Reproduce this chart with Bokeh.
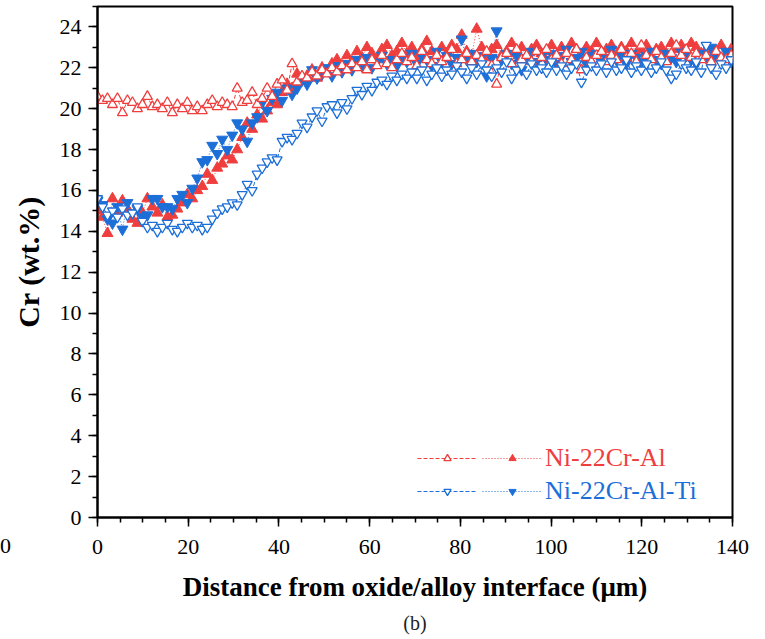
from bokeh.plotting import figure
from bokeh.models import Range1d, SingleIntervalTicker, Legend, LegendItem, Title, Div
from bokeh.layouts import column
from bokeh.embed import file_html
from bokeh.resources import INLINE

# Distance from oxide/alloy interface (um)
distance = [0.0, 1.1, 2.2, 3.3, 4.4, 5.5, 6.6, 7.7, 8.8, 9.9,
            11.0, 12.1, 13.2, 14.3, 15.4, 16.5, 17.6, 18.7, 19.8, 20.9,
            22.0, 23.1, 24.2, 25.3, 26.4, 27.5, 28.6, 29.7, 30.8, 31.9,
            33.0, 34.1, 35.2, 36.3, 37.4, 38.5, 39.6, 40.7, 41.8, 42.9,
            44.0, 45.1, 46.2, 47.3, 48.4, 49.5, 50.6, 51.7, 52.8, 53.9,
            55.0, 56.1, 57.2, 58.3, 59.4, 60.5, 61.6, 62.7, 63.8, 64.9,
            66.0, 67.1, 68.2, 69.3, 70.4, 71.5, 72.6, 73.7, 74.8, 75.9,
            77.0, 78.1, 79.2, 80.3, 81.4, 82.5, 83.6, 84.7, 85.8, 86.9,
            88.0, 89.1, 90.2, 91.3, 92.4, 93.5, 94.6, 95.7, 96.8, 97.9,
            99.0, 100.1, 101.2, 102.3, 103.4, 104.5, 105.6, 106.7, 107.8, 108.9,
            110.0, 111.1, 112.2, 113.3, 114.4, 115.5, 116.6, 117.7, 118.8, 119.9,
            121.0, 122.1, 123.2, 124.3, 125.4, 126.5, 127.6, 128.7, 129.8, 130.9,
            132.0, 133.1, 134.2, 135.3, 136.4, 137.5, 138.6, 139.7]

# Ni-22Cr-Al, open symbols (dashed)
cr_al_open = [20.6, 20.4, 20.5, 20.2, 20.5, 19.8, 20.4, 20.3, 20.0, 20.2,
              20.6, 20.1, 20.2, 20.0, 20.3, 19.8, 20.2, 20.0, 20.3, 19.9,
              20.1, 19.9, 20.2, 20.4, 20.1, 20.3, 20.2, 20.1, 21.0, 20.3,
              20.4, 20.8, 20.2, 20.5, 21.0, 20.6, 21.2, 21.4, 20.9, 22.2,
              21.3, 21.6, 21.5, 21.8, 21.6, 21.9, 21.7, 22.0, 21.8, 22.1,
              21.9, 22.2, 22.0, 22.3, 21.9, 22.4, 22.1, 22.6, 22.2, 22.0,
              22.4, 22.7, 22.3, 22.5, 22.1, 22.8, 22.4, 22.2, 22.6, 22.3,
              22.5, 22.9, 22.2, 22.4, 22.7, 22.3, 22.6, 22.4, 22.8, 22.1,
              21.2, 22.5, 22.7, 22.2, 22.9, 22.4, 22.6, 22.3, 22.8, 22.5,
              22.9, 22.4, 22.6, 22.2, 22.7, 22.4, 22.9, 21.9, 22.5, 22.3,
              22.6, 22.8, 22.3, 22.6, 22.4, 22.9, 22.5, 22.7, 22.3, 23.1,
              22.6, 22.4, 22.8, 22.5, 22.3, 22.7, 23.1, 22.6, 22.9, 22.5,
              22.7, 22.4, 22.6, 22.3, 22.8, 22.5, 22.4, 22.6]

# Ni-22Cr-Al, filled symbols (dotted)
cr_al_filled = [15.0, 14.7, 13.9, 15.6, 14.9, 15.5, 15.1, 14.6, 14.4, 14.9,
                15.6, 15.2, 14.9, 15.3, 14.7, 14.8, 15.1, 15.4, 15.8, 15.6,
                16.0, 16.2, 16.8, 16.5, 17.1, 17.3, 17.7, 17.5, 18.0, 18.6,
                19.3, 19.0, 19.7, 19.5, 19.9, 20.3, 20.2, 20.8, 21.2, 21.0,
                21.7, 21.4, 21.6, 21.9, 21.5, 22.0, 21.8, 22.2, 22.4, 22.1,
                22.6, 22.3, 22.8, 22.5, 23.0, 22.7, 22.4, 22.9, 23.1, 22.6,
                22.8, 23.2, 22.7, 23.0, 22.5, 22.9, 23.3, 22.8, 22.6, 23.0,
                22.7, 23.1, 22.9, 23.6, 22.8, 22.6, 23.9, 23.0, 22.5, 22.9,
                23.1, 22.6, 22.8, 23.2, 22.7, 23.0, 22.5, 22.9, 23.1, 22.7,
                22.8, 23.1, 22.6, 23.0, 22.7, 23.2, 22.9, 22.6, 23.0, 22.8,
                23.2, 22.7, 22.9, 23.1, 22.6, 23.0, 22.8, 23.2, 22.7, 22.9,
                23.1, 22.6, 22.9, 23.0, 22.7, 23.2, 22.9, 23.1, 22.8, 23.2,
                23.0, 22.7, 22.9, 22.5, 22.8, 23.1, 22.6, 22.9]

# Ni-22Cr-Al-Ti, open symbols (dashed)
cr_alti_open = [15.6, 15.2, 14.8, 15.0, 14.7, 15.1, 14.8, 14.9, 15.2, 14.5,
                14.2, 14.3, 14.0, 14.2, 14.4, 14.1, 14.0, 14.2, 14.4, 14.2,
                14.3, 14.1, 14.2, 14.6, 14.9, 15.1, 15.2, 15.4, 15.3, 15.8,
                16.3, 16.0, 16.8, 17.1, 17.4, 17.6, 17.5, 18.4, 18.6, 18.5,
                18.8, 19.3, 19.1, 19.6, 19.9, 19.4, 20.1, 20.2, 19.8, 20.3,
                20.0, 20.5, 20.9, 20.7, 21.1, 20.9, 21.3, 21.4, 21.2, 21.6,
                21.4, 21.7, 21.5, 21.8, 21.5, 21.9, 21.4, 21.7, 22.0, 21.6,
                21.9, 21.7, 22.1, 21.8, 21.5, 22.0, 21.7, 22.2, 21.9, 21.6,
                22.0, 21.8, 22.3, 21.5, 21.9, 22.1, 21.7, 22.2, 21.9, 22.0,
                21.8, 22.3, 21.9, 22.1, 21.7, 22.0, 22.2, 21.3, 21.9, 22.1,
                21.9, 22.2, 21.8, 22.3, 21.9, 22.0, 22.4, 21.8, 22.1, 21.9,
                22.2, 21.8, 22.0, 22.3, 21.9, 21.5, 21.7, 22.2, 22.0, 21.9,
                22.3, 21.8, 23.1, 22.0, 21.7, 22.2, 22.0, 22.4]

# Ni-22Cr-Al-Ti, filled symbols (dotted)
cr_alti_filled = [15.5, 15.3, 14.6, 14.4, 15.2, 14.1, 15.4, 14.9, 15.1, 14.7,
                  14.8, 15.6, 15.6, 15.2, 15.2, 15.1, 15.6, 15.8, 15.4, 16.1,
                  16.6, 17.4, 17.5, 18.2, 17.8, 18.5, 18.0, 18.7, 19.3, 19.0,
                  18.4, 19.3, 19.6, 20.3, 19.9, 20.5, 20.8, 20.4, 21.0, 20.7,
                  21.0, 21.4, 21.2, 21.9, 21.5, 21.7, 22.0, 21.6, 22.1, 21.8,
                  22.2, 21.9, 22.4, 22.1, 22.5, 22.0, 22.3, 22.6, 22.2, 22.4,
                  22.1, 22.5, 22.3, 22.7, 22.2, 22.6, 22.4, 22.1, 22.8, 22.3,
                  22.6, 22.2, 22.5, 23.4, 22.4, 22.7, 22.3, 22.6, 21.6, 22.5,
                  23.8, 22.4, 22.7, 22.2, 22.6, 21.9, 22.5, 22.8, 22.3, 22.6,
                  22.4, 22.7, 22.2, 22.6, 22.9, 22.3, 22.5, 22.8, 22.2, 22.6,
                  22.7, 22.3, 22.5, 22.9, 22.4, 22.6, 22.2, 22.7, 22.5, 22.3,
                  22.6, 22.8, 22.4, 22.2, 22.7, 22.5, 22.3, 22.8, 22.6, 22.4,
                  22.2, 22.7, 22.5, 23.0, 22.6, 22.4, 22.8, 22.3]

series_labels = ["Ni-22Cr-Al", "Ni-22Cr-Al-Ti"]
x_ticks_interval = 20
y_ticks_interval = 2

RED = "#ef3e3e"
BLUE = "#1d6fd8"
FONT = "Liberation Serif"

p = figure(width=765, height=639, output_backend="svg", toolbar_location=None,
           title=None, x_range=Range1d(0, 140), y_range=Range1d(0, 25),
           min_border_left=97, min_border_right=33, min_border_top=6,
           min_border_bottom=122)

p.xgrid.visible = False
p.ygrid.visible = False
p.outline_line_color = "black"
p.outline_line_width = 2
p.background_fill_color = "white"
p.border_fill_color = "white"

p.xaxis.ticker = SingleIntervalTicker(interval=x_ticks_interval, num_minor_ticks=4)
p.yaxis.ticker = SingleIntervalTicker(interval=y_ticks_interval, num_minor_ticks=2)
p.xaxis.axis_label = "Distance from oxide/alloy interface (μm)"
p.yaxis.axis_label = "Cr (wt.%)"

for ax in (p.xaxis[0], p.yaxis[0]):
    ax.axis_line_width = 2
    ax.axis_line_color = "black"
    ax.major_tick_line_width = 1.5
    ax.minor_tick_line_width = 1.5
    ax.major_tick_line_color = "black"
    ax.minor_tick_line_color = "black"
    ax.major_tick_in = 0
    ax.major_tick_out = 9
    ax.minor_tick_in = 0
    ax.minor_tick_out = 5
    ax.major_label_text_font = FONT
    ax.major_label_text_font_size = "22px"
    ax.major_label_text_color = "black"
    ax.axis_label_text_font = FONT
    ax.axis_label_text_font_style = "bold"
    ax.axis_label_text_color = "black"

p.xaxis.major_label_standoff = 13
p.yaxis.major_label_standoff = 7
p.xaxis.axis_label_text_font_size = "27px"
p.yaxis.axis_label_text_font_size = "30px"
p.xaxis.axis_label_standoff = 15
p.yaxis.axis_label_standoff = 12

# connecting lines
l_ro = p.line(distance, cr_al_open, line_color=RED, line_width=1, line_dash="4 2")
l_rf = p.line(distance, cr_al_filled, line_color=RED, line_width=1, line_dash="1 2")
l_bo = p.line(distance, cr_alti_open, line_color=BLUE, line_width=1, line_dash="4 2")
l_bf = p.line(distance, cr_alti_filled, line_color=BLUE, line_width=1, line_dash="1 2")

# markers
s_rf = p.scatter(distance, cr_al_filled, marker="triangle", size=11,
                 fill_color=RED, line_color=RED, line_width=1)
s_bf = p.scatter(distance, cr_alti_filled, marker="inverted_triangle", size=11,
                 fill_color=BLUE, line_color=BLUE, line_width=1)
s_ro = p.scatter(distance, cr_al_open, marker="triangle", size=10,
                 fill_color="white", line_color=RED, line_width=1.3)
s_bo = p.scatter(distance, cr_alti_open, marker="inverted_triangle", size=10,
                 fill_color="white", line_color=BLUE, line_width=1.3)


def row_legend(items, color, y):
    lg = Legend(items=items, orientation="horizontal", location=(320, y),
                glyph_width=60, glyph_height=18, label_standoff=3, spacing=2,
                label_width=0, padding=0, margin=0, border_line_alpha=0,
                background_fill_alpha=0, label_text_font=FONT,
                label_text_font_size="26px", label_text_color=color)
    return lg


leg1 = row_legend([LegendItem(label=" ", renderers=[l_ro, s_ro]),
                   LegendItem(label=series_labels[0], renderers=[l_rf, s_rf])],
                  RED, 44)
leg2 = row_legend([LegendItem(label=" ", renderers=[l_bo, s_bo]),
                   LegendItem(label=series_labels[1], renderers=[l_bf, s_bf])],
                  BLUE, 11)
p.add_layout(leg1)
p.add_layout(leg2)

p.add_layout(Title(text="(b)", align="center", text_font=FONT,
                   text_font_size="20px", text_font_style="normal",
                   text_color="#222222"), "below")

# tick label of a neighbouring panel, visible at the left edge of the page
edge_label = Div(text="0", width=14, height=26,
                 styles={"margin-top": "-106px", "margin-left": "0px",
                         "font-family": "Liberation Serif", "font-size": "22px",
                         "line-height": "26px", "color": "black",
                         "z-index": "10"})

layout = column(p, edge_label, spacing=0)

open("out.html", "w").write(file_html(layout, INLINE))
